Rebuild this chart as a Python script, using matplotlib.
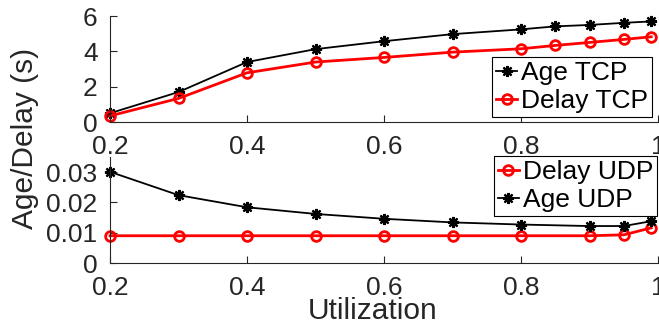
import matplotlib
matplotlib.use('Agg')
import matplotlib.pyplot as plt

# utilization points
util_tcp = [0.2, 0.3, 0.4, 0.5, 0.6, 0.7, 0.8, 0.85, 0.9, 0.95, 0.99]
age_tcp = [0.5, 1.7, 3.4, 4.13, 4.58, 4.98, 5.25, 5.42, 5.5, 5.62, 5.7]
delay_tcp = [0.35, 1.34, 2.79, 3.4, 3.66, 3.96, 4.15, 4.34, 4.51, 4.68, 4.83]

util_udp = [0.2, 0.3, 0.4, 0.5, 0.6, 0.7, 0.8, 0.9, 0.95, 0.99]
age_udp = [0.0301, 0.0224, 0.0184, 0.0162, 0.0146, 0.0134, 0.0127, 0.0122, 0.0122, 0.0138]
delay_udp = [0.009, 0.009, 0.009, 0.009, 0.009, 0.009, 0.009, 0.009, 0.0093, 0.0116]

x_ticks = [0.2, 0.4, 0.6, 0.8, 1]
x_tick_labels = ['0.2', '0.4', '0.6', '0.8', '1']
top_yticks = [0, 2, 4, 6]
bottom_yticks = [0, 0.01, 0.02, 0.03]
bottom_ytick_labels = ['0', '0.01', '0.02', '0.03']

plt.rcParams['font.family'] = ['Liberation Sans', 'DejaVu Sans']
plt.rcParams['font.size'] = 19
text_color = '#262626'

fig = plt.figure(figsize=(6.59, 3.29), dpi=100)
ax1 = fig.add_axes([0.167, 0.629, 0.8316, 0.322])
ax2 = fig.add_axes([0.167, 0.2006, 0.8316, 0.3222])

# matlab style '*' = plus + cross
black_kw = dict(color='black', lw=1.3, marker=(8, 2, 0), ms=8, mew=1.6)
red_kw = dict(color='red', lw=2.0, marker='o', ms=7, mfc='none', mew=2)

ax1.plot(util_tcp, age_tcp, label='Age TCP', **black_kw)
ax1.plot(util_tcp, delay_tcp, label='Delay TCP', **red_kw)
ax1.set_ylim(0, 6)
ax1.set_yticks(top_yticks)

ax2.plot(util_udp, delay_udp, label='Delay UDP', **red_kw)
ax2.plot(util_udp, age_udp, label='Age UDP', **black_kw)
ax2.set_ylim(0, 0.035)
ax2.set_yticks(bottom_yticks)
ax2.set_yticklabels(bottom_ytick_labels)

for ax in (ax1, ax2):
    ax.set_xlim(0.2, 1)
    ax.set_xticks(x_ticks)
    ax.set_xticklabels(x_tick_labels)
    ax.spines['top'].set_visible(False)
    ax.spines['right'].set_visible(False)
    for s in ('left', 'bottom'):
        ax.spines[s].set_color(text_color)
        ax.spines[s].set_linewidth(0.8)
    ax.tick_params(direction='in', length=5, width=0.8, colors=text_color,
                   labelcolor=text_color)
    ax.tick_params(axis='x', pad=9)
    ax.tick_params(axis='y', pad=9)
    for line in ax.get_lines():
        line.set_clip_on(False)

leg_kw = dict(fancybox=False, framealpha=1, edgecolor='black', handlelength=0.8,
              handletextpad=0.15, borderpad=0.15, labelspacing=0.15,
              borderaxespad=0, fontsize=19)
l1 = ax1.legend(loc='lower right', bbox_to_anchor=(0.989, 0.047), **leg_kw)
l2 = ax2.legend(loc='upper right', bbox_to_anchor=(0.998, 1.01), **leg_kw)
for leg in (l1, l2):
    leg.get_frame().set_linewidth(0.8)

fig.text(0.038, 0.578, 'Age/Delay (s)', rotation=90, ha='center', va='center',
         color=text_color, fontsize=21.5)
fig.text(0.565, 0.055, 'Utilization', ha='center', va='center',
         color=text_color, fontsize=21.5)

fig.savefig('out.png', dpi=100)
